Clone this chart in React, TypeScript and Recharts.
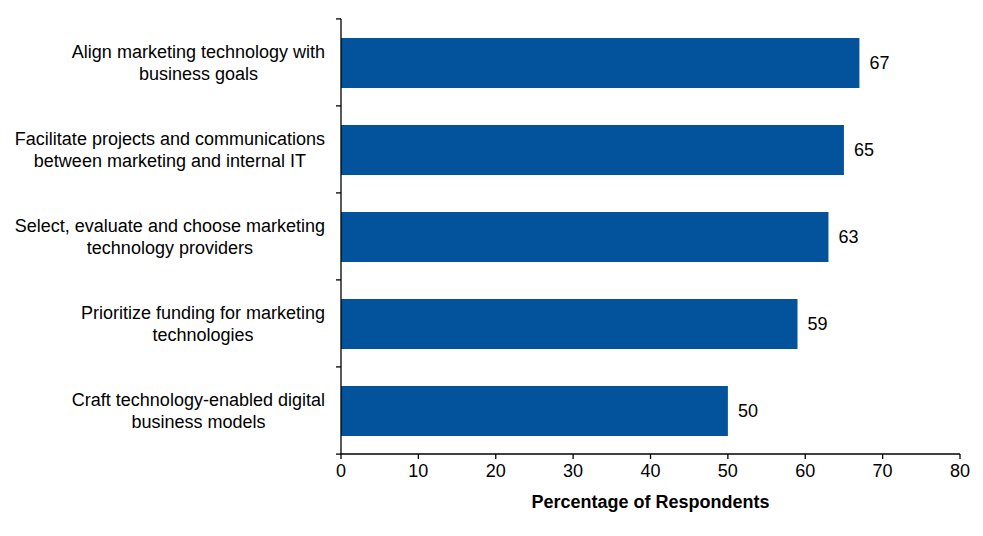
import React from 'react';
import { BarChart, Bar, XAxis, YAxis, LabelList } from 'recharts';

const categories = [
  'Align marketing technology with\nbusiness goals',
  'Facilitate projects and communications\nbetween marketing and internal IT',
  'Select, evaluate and choose marketing\ntechnology providers',
  'Prioritize funding for marketing\ntechnologies',
  'Craft technology-enabled digital\nbusiness models',
];
const percentages = [67, 65, 63, 59, 50];
const xTicks = [0, 10, 20, 30, 40, 50, 60, 70, 80];

const data = categories.map((name, i) => ({ name, value: percentages[i] }));

const FONT = '"Liberation Sans", Arial, sans-serif';
const FS = 18;
const BAND = 87.2;
const AXIS_X = 341;

let ctx: CanvasRenderingContext2D | null = null;
const measure = (s: string) => {
  if (!ctx) ctx = document.createElement('canvas').getContext('2d');
  if (!ctx) return s.length * 9;
  ctx.font = `${FS}px ${FONT}`;
  return ctx.measureText(s).width;
};

const CategoryTick = (props: any) => {
  const { y, payload, index } = props;
  const lines = String(payload.value).split('\n');
  const right = AXIS_X - 16;
  const maxW = Math.max(...lines.map(measure));
  const cx = right - maxW / 2;
  const top = y - BAND / 2;
  return (
    <g>
      <line x1={AXIS_X - 5} x2={AXIS_X} y1={top} y2={top} stroke="#000" strokeWidth={1.3} />
      {index === categories.length - 1 && (
        <line x1={AXIS_X - 5} x2={AXIS_X} y1={y + BAND / 2} y2={y + BAND / 2} stroke="#000" strokeWidth={1.3} />
      )}
      <text x={cx} y={y - (lines.length - 1) * 11} textAnchor="middle" fontSize={FS} fill="#000" fontFamily={FONT}>
        {lines.map((l, i) => (
          <tspan key={i} x={cx} dy={i === 0 ? '0.35em' : 22}>
            {l}
          </tspan>
        ))}
      </text>
    </g>
  );
};

export default function App() {
  return (
    <div style={{ margin: -8, background: '#fff', width: 983, height: 536 }}>
      <BarChart
        width={983}
        height={536}
        data={data}
        layout="vertical"
        margin={{ top: 19, right: 23, left: 0, bottom: 22 }}
        barCategoryGap={0}
      >
        <XAxis
          type="number"
          domain={[0, 80]}
          ticks={xTicks}
          height={60}
          stroke="#000"
          strokeWidth={1.3}
          tickSize={5}
          tickMargin={5}
          tick={{ fill: '#000', fontSize: FS, fontFamily: FONT }}
          label={{
            value: 'Percentage of Respondents',
            position: 'insideBottom',
            offset: 6,
            fill: '#000',
            fontSize: FS,
            fontWeight: 'bold',
            fontFamily: FONT,
          }}
        />
        <YAxis
          type="category"
          dataKey="name"
          width={AXIS_X}
          stroke="#000"
          strokeWidth={1.3}
          tickLine={false}
          interval={0}
          tick={<CategoryTick />}
        />
        <Bar dataKey="value" fill="#02529C" barSize={50} isAnimationActive={false}>
          <LabelList dataKey="value" position="right" offset={10} fill="#000" fontSize={FS} fontFamily={FONT} />
        </Bar>
      </BarChart>
    </div>
  );
}
